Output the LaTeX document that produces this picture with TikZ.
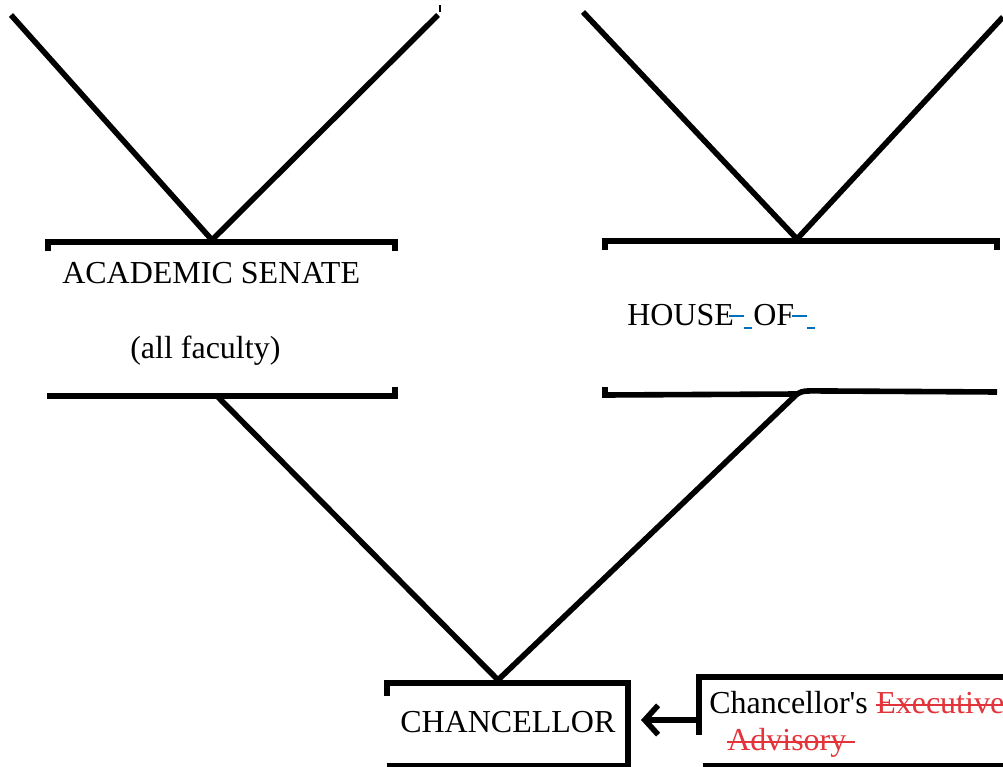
\documentclass[tikz,border=0pt]{standalone}
\usepackage{fontspec}
\setmainfont{Liberation Serif}[Ligatures=TeXOff]
\usetikzlibrary{arrows.meta}
\definecolor{delred}{RGB}{226,52,58}
\definecolor{insblue}{RGB}{0,112,192}
\begin{document}
\begin{tikzpicture}[x=0.75pt,y=-0.75pt,
  wire/.style={line width=4.2pt, line join=miter},
  vee/.style={line width=4.2pt, line join=round},
  lbl/.style={inner sep=0pt, anchor=base west, font=\fontsize{24}{28}\selectfont},
  dellbl/.style={lbl, text=delred},
  strikeline/.style={delred, line width=1.4pt},
  insmark/.style={insblue, line width=1.4pt}]
\useasboundingbox (0,0) rectangle (1003,767);

% ---- coordinates
\coordinate (tl1) at (11,15);
\coordinate (tl2) at (438,15);
\coordinate (senApex) at (212,240);
\coordinate (tr1) at (583,12);
\coordinate (tr2) at (1003,17);
\coordinate (houApex) at (797,239);
\coordinate (senBot) at (217,396);
\coordinate (houBot) at (797,394);
\coordinate (chApex) at (498,680);
\coordinate (advL) at (699,720);
\coordinate (chR) at (641,720);

% ---- upper V's
\draw[vee] (tl1) -- (senApex) -- (tl2);
\draw[line width=0.8pt] (440,5) -- (440,12);
\draw[vee] (tr1) -- (houApex) -- (tr2);

% ---- Academic Senate bracket box
\draw[wire] (48,251) -- (48,242) -- (395,242) -- (395,251);
\draw[wire] (47,396) -- (395,396) -- (395,387);
\node[lbl] (sen) at (62,283) {ACADEMIC SENATE};
\node[lbl] (fac) at (130,358) {(all faculty)};

% ---- House bracket box
\draw[wire] (605,250) -- (605,241) -- (997,241) -- (997,250);
\draw[wire] (605,387) -- (605,395) -- (houBot) .. controls (803,390) and (808,391) .. (830,391) -- (997,392);
\node[lbl] (hou) at (627,325) {HOUSE};
\node[lbl] (of) at (753,325) {OF};
\draw[insmark] (729,316) -- (744,316);
\draw[insmark] (744,328) -- (752,328);
\draw[insmark] (792,316) -- (807,316);
\draw[insmark] (807,328) -- (815,328);

% ---- lower V
\draw[vee] (senBot) -- (chApex) -- (houBot);

% ---- Chancellor box
\draw[wire] (387,696) -- (387,683) -- (628,683) -- (628,769);
\draw[wire] (387,766) -- (628,766);
\node[lbl] (ch) at (400,732) {CHANCELLOR};

% ---- Advisory box
\draw[wire] (699,735) -- (699,677) -- (1005,677);
\draw[wire] (703,766) -- (1005,766);
\node[lbl] (cs) at (709,713) {Chancellor's};
\node[dellbl] (ex) at (876,713) {Executive};
\draw[strikeline] ([yshift=6pt]ex.base west) -- ([yshift=6pt]ex.base east);
\node[dellbl] (ad) at (727,750) {Advisory};
\draw[strikeline] ([yshift=6pt]ad.base west) -- ([xshift=6pt,yshift=6pt]ad.base east);

% ---- arrow
\draw[line width=4.2pt, -{Straight Barb[length=10pt,width=22pt]}] (advL) -- (chR);
\end{tikzpicture}
\end{document}
